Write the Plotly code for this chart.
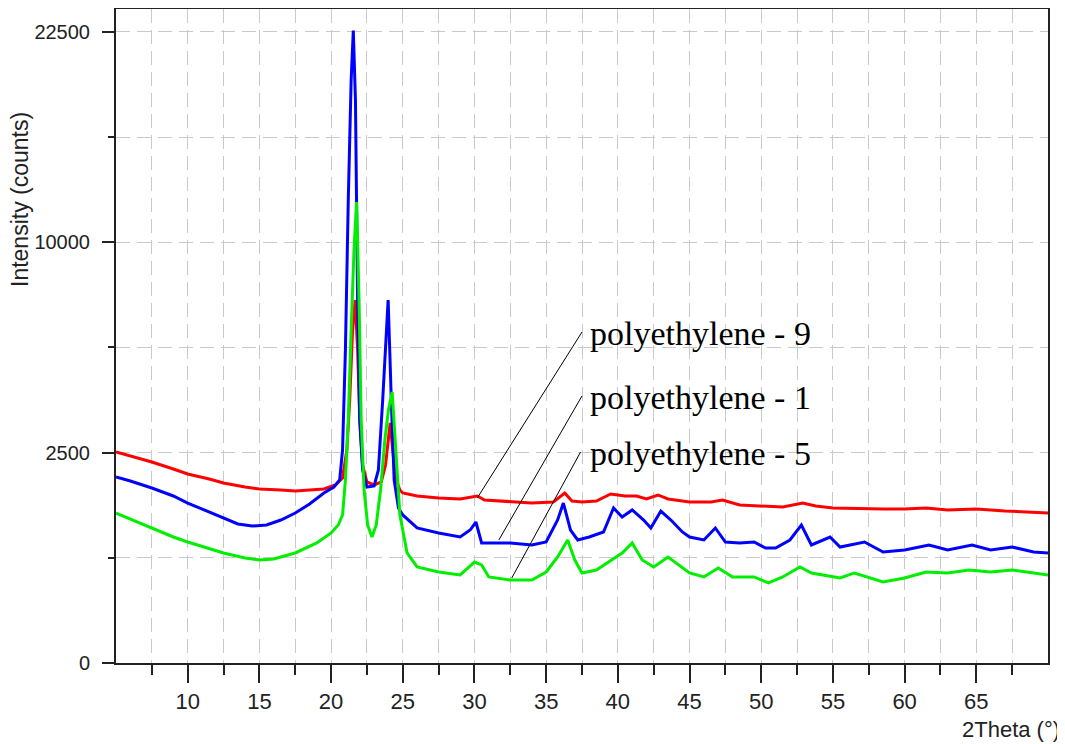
import numpy as np
import plotly.graph_objects as go

# ---------------- data ----------------
theta_pe9 = [5.0, 6.0, 7.5, 9.0, 10.0, 11.5, 12.5, 14.0, 15.0, 16.5, 17.5, 18.5, 19.5, 20.3, 20.8,
             21.1, 21.3, 21.5, 21.68, 21.85, 22.0, 22.2, 22.5, 23.0, 23.5, 23.8, 24.0, 24.12, 24.3,
             24.5, 24.8, 25.0, 26.0, 27.5, 29.0, 30.2, 30.7, 32.5, 34.0, 35.5, 36.3, 36.8, 37.5,
             38.5, 39.5, 40.5, 41.3, 42.0, 42.8, 43.5, 45.0, 46.5, 47.3, 48.5, 50.0, 51.5, 52.9,
             53.8, 55.0, 57.0, 58.5, 60.0, 61.5, 63.0, 65.0, 67.0, 68.5, 70.0]
counts_pe9 = [2515, 2421, 2283, 2127, 2018, 1913, 1831, 1750, 1711, 1691, 1671, 1691, 1711, 1790, 1934,
              2563, 3908, 6265, 7445, 5535, 3336, 2215, 1851, 1790, 1851, 2215, 2810, 3254, 2563,
              1934, 1691, 1633, 1576, 1538, 1520, 1576, 1501, 1465, 1446, 1465, 1633, 1483, 1465,
              1483, 1614, 1576, 1576, 1520, 1595, 1520, 1465, 1465, 1501, 1410, 1393, 1375, 1446,
              1393, 1357, 1340, 1340, 1340, 1357, 1323, 1340, 1305, 1288, 1271]

theta_pe1 = [5.0, 6.0, 7.5, 9.0, 10.0, 11.5, 12.5, 13.5, 14.5, 15.5, 16.5, 17.5, 18.5, 19.5, 20.2,
             20.6, 20.8, 21.0, 21.2, 21.4, 21.55, 21.7, 21.85, 22.0, 22.2, 22.5, 23.0, 23.3, 23.6,
             23.98, 24.2, 24.4, 24.7, 25.0, 26.0, 27.5, 29.0, 29.7, 30.1, 30.5, 31.5, 32.5, 34.0,
             35.0, 35.8, 36.2, 36.7, 37.2, 38.0, 39.0, 39.7, 40.3, 41.0, 41.8, 42.3, 43.0, 43.7,
             44.5, 45.0, 46.0, 46.8, 47.5, 48.5, 49.5, 50.3, 51.0, 52.0, 52.8, 53.5, 54.8, 55.5,
             57.2, 58.5, 60.0, 61.7, 63.0, 64.7, 66.0, 67.5, 69.0, 70.0]
counts_pe1 = [1955, 1871, 1730, 1576, 1446, 1288, 1188, 1092, 1060, 1076, 1155, 1271, 1428, 1633, 1750,
              1892, 2563, 5535, 12112, 19204, 22600, 17909, 7445, 3336, 2105, 1750, 1770, 2105, 3908,
              7445, 3908, 1892, 1357, 1238, 1030, 955, 897, 999, 1123, 814, 814, 814, 787,
              827, 1155, 1446, 999, 855, 897, 970, 1357, 1204, 1323, 1155, 1030, 1305, 1155,
              970, 897, 855, 1030, 827, 814, 827, 747, 747, 855, 1076, 787, 897, 760,
              827, 696, 721, 787, 721, 787, 721, 760, 696, 684]

theta_pe5 = [5.0, 6.0, 7.5, 9.0, 10.0, 11.5, 12.5, 14.0, 15.0, 16.0, 17.5, 19.0, 20.0, 20.5, 20.8,
             21.0, 21.2, 21.4, 21.6, 21.78, 21.95, 22.1, 22.3, 22.55, 22.85, 23.15, 23.45, 23.75,
             24.0, 24.26, 24.5, 24.8, 25.3, 26.0, 27.5, 29.0, 30.0, 30.5, 31.0, 32.5, 34.0, 35.0,
             35.8, 36.5, 37.0, 37.5, 38.5, 39.5, 40.3, 41.0, 41.7, 42.5, 43.5, 45.0, 46.0, 47.0,
             48.0, 49.5, 50.5, 51.5, 52.7, 53.5, 55.0, 55.5, 56.5, 58.5, 60.0, 61.5, 63.0, 64.5,
             66.0, 67.5, 69.0, 70.0]
counts_pe5 = [1271, 1172, 1030, 897, 827, 734, 684, 623, 599, 611, 684, 814, 955, 1076, 1238,
              1892, 3336, 6265, 9637, 12008, 7445, 3336, 1691, 1076, 897, 1076, 1691, 2810,
              3617, 4150, 2563, 1238, 684, 521, 468, 438, 576, 543, 418, 389, 389, 468,
              635, 855, 599, 458, 489, 599, 684, 814, 599, 521, 635, 458, 418, 510,
              418, 418, 362, 418, 521, 458, 418, 408, 458, 371, 408, 468, 458, 489,
              468, 489, 458, 438]

series_names = ["polyethylene - 9", "polyethylene - 1", "polyethylene - 5"]
y_tick_counts = [0, 2500, 10000, 22500]
y_minor_counts = [625, 5625, 15625]
x_tick_values = [10, 15, 20, 25, 30, 35, 40, 45, 50, 55, 60, 65]
x_minor_values = [7.5, 12.5, 17.5, 22.5, 27.5, 32.5, 37.5, 42.5, 47.5, 52.5, 57.5, 62.5, 67.5]

# --------------- figure ---------------
AXIS_FONT = "Liberation Sans Narrow, Arial Narrow, Liberation Sans, Arial, sans-serif"
GRID = "#c9c9c9"
DASH = "14px,7px"

# page offset of 8px (body margin) is compensated in the figure geometry
FIG_W, FIG_H = 1057, 736
ML, MR, MT, MB = 108, 17, 1, 81
PW, PH = FIG_W - ML - MR, FIG_H - MT - MB


def px_to_paper(px, py):
    """page pixel -> paper coords of the plot area"""
    fx, fy = px - 8, py - 8
    return (fx - ML) / PW, 1 - (fy - MT) / PH


fig = go.Figure()
for th, ct, col in [(theta_pe9, counts_pe9, "#ff0000"),
                    (theta_pe1, counts_pe1, "#0000ff"),
                    (theta_pe5, counts_pe5, "#00ee00")]:
    fig.add_trace(go.Scatter(x=th, y=np.sqrt(np.array(ct, dtype=float)), mode="lines",
                             line=dict(color=col, width=3), showlegend=False,
                             hoverinfo="skip"))

sq = lambda v: float(np.sqrt(v))

# leader lines: (label end, curve end) in (2theta, counts)
leaders = [((37.5, 6190), (30.2, 1540)),
           ((37.5, 4030), (31.7, 855)),
           ((37.4, 2515), (32.6, 408))]
for (x0, c0), (x1, c1) in leaders:
    fig.add_shape(type="line", xref="x", yref="y", x0=x0, y0=sq(c0), x1=x1, y1=sq(c1),
                  line=dict(color="black", width=1))

label_counts = [6150, 3997, 2491]
for name, c in zip(series_names, label_counts):
    fig.add_annotation(x=37.9, y=sq(c), xref="x", yref="y", text=name, showarrow=False,
                       xanchor="left", yanchor="middle",
                       font=dict(family="Liberation Serif, Times New Roman, serif", size=34,
                                 color="black"))

tx, ty = px_to_paper(20, 200)
fig.add_annotation(x=tx, y=ty, xref="paper", yref="paper", text="Intensity (counts)",
                   showarrow=False, textangle=-90, xanchor="center", yanchor="middle",
                   font=dict(family=AXIS_FONT, size=23, color="#222"))

tx, ty = px_to_paper(1011, 729)
fig.add_annotation(x=tx, y=ty, xref="paper", yref="paper", text="2Theta (°)",
                   showarrow=False, xanchor="center", yanchor="middle",
                   font=dict(family=AXIS_FONT, size=22, color="#222"))

fig.update_xaxes(range=[5, 70], tickmode="array", tickvals=x_tick_values,
                 ticks="outside", ticklen=18, tickwidth=2, tickcolor="#222",
                 showline=True, linecolor="#222", linewidth=2, mirror=True,
                 showgrid=True, gridcolor=GRID, griddash=DASH, gridwidth=1,
                 zeroline=False, ticklabelstandoff=0,
                 tickfont=dict(family=AXIS_FONT, size=22, color="#222"),
                 minor=dict(tickmode="array", tickvals=x_minor_values, ticks="outside",
                            ticklen=10, tickwidth=2, tickcolor="#222", showgrid=True,
                            gridcolor=GRID, griddash=DASH, gridwidth=1))

fig.update_yaxes(range=[0, 155.45], tickmode="array",
                 tickvals=[sq(v) for v in y_tick_counts],
                 ticktext=[str(v) for v in y_tick_counts],
                 ticks="outside", ticklen=12, tickwidth=2, tickcolor="#222",
                 showline=True, linecolor="#222", linewidth=2, mirror=True,
                 showgrid=True, gridcolor=GRID, griddash=DASH, gridwidth=1,
                 zeroline=False, ticklabelstandoff=8,
                 tickfont=dict(family=AXIS_FONT, size=20, color="#222"),
                 minor=dict(tickmode="array", tickvals=[sq(v) for v in y_minor_counts],
                            ticks="outside", ticklen=6, tickwidth=2, tickcolor="#222",
                            showgrid=True, gridcolor=GRID, griddash=DASH, gridwidth=1))

fig.update_layout(width=FIG_W, height=FIG_H, margin=dict(l=ML, r=MR, t=MT, b=MB, autoexpand=False),
                  plot_bgcolor="white", paper_bgcolor="white")

fig.write_html("out.html")
